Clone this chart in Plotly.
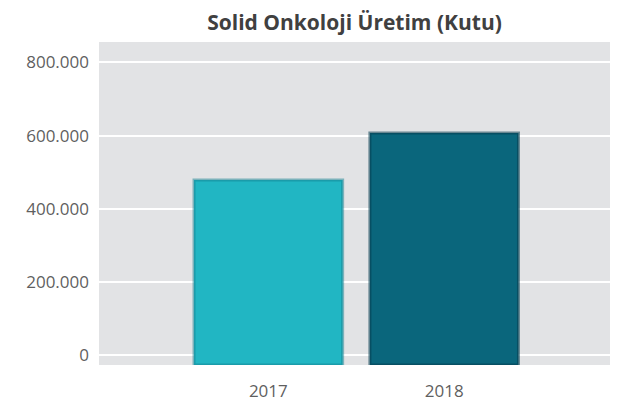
import plotly.graph_objects as go

years = ["2017", "2018"]
production = [479000, 607000]
bar_colors = ["#21b6c3", "#0a667c"]
edge_colors = ["rgba(20,130,145,0.5)", "rgba(5,60,78,0.55)"]
tick_vals = [0, 200000, 400000, 600000, 800000]
tick_text = ["0", "200.000", "400.000", "600.000", "800.000"]

Y_MIN, Y_MAX = -27000, 856000

fig = go.Figure()
fig.add_trace(go.Bar(
    x=years,
    y=[v - Y_MIN for v in production],
    base=Y_MIN,
    width=0.845,
    marker=dict(color=bar_colors, line=dict(color=edge_colors, width=3)),
    hoverinfo="skip",
))

# page body has an 8px default margin, compensate in the margins
fig.update_layout(
    width=626, height=406,
    margin=dict(l=91, r=24, t=34, b=49),
    paper_bgcolor="white",
    plot_bgcolor="#e2e3e5",
    showlegend=False,
    separators=",.",
    font=dict(family="Open Sans, sans-serif", color="#5f5f5f"),
    title=dict(
        text="<b>Solid Onkoloji Üretim (Kutu)</b>",
        x=0.5, xref="paper", xanchor="center",
        y=0.982, yref="container", yanchor="top",
        font=dict(size=21, color="#404040"),
    ),
    xaxis=dict(
        range=[-0.963, 1.943],
        showgrid=False, zeroline=False, showline=False,
        ticks="", ticklabelstandoff=14,
        tickfont=dict(size=17, color="#5f5f5f"),
    ),
    yaxis=dict(
        range=[Y_MIN, Y_MAX],
        tickvals=tick_vals, ticktext=tick_text,
        showgrid=True, gridcolor="white", gridwidth=2,
        zeroline=False, showline=False,
        ticks="", ticklabelstandoff=9,
        tickfont=dict(size=17, color="#5f5f5f"),
    ),
)

fig.write_html("out.html")
